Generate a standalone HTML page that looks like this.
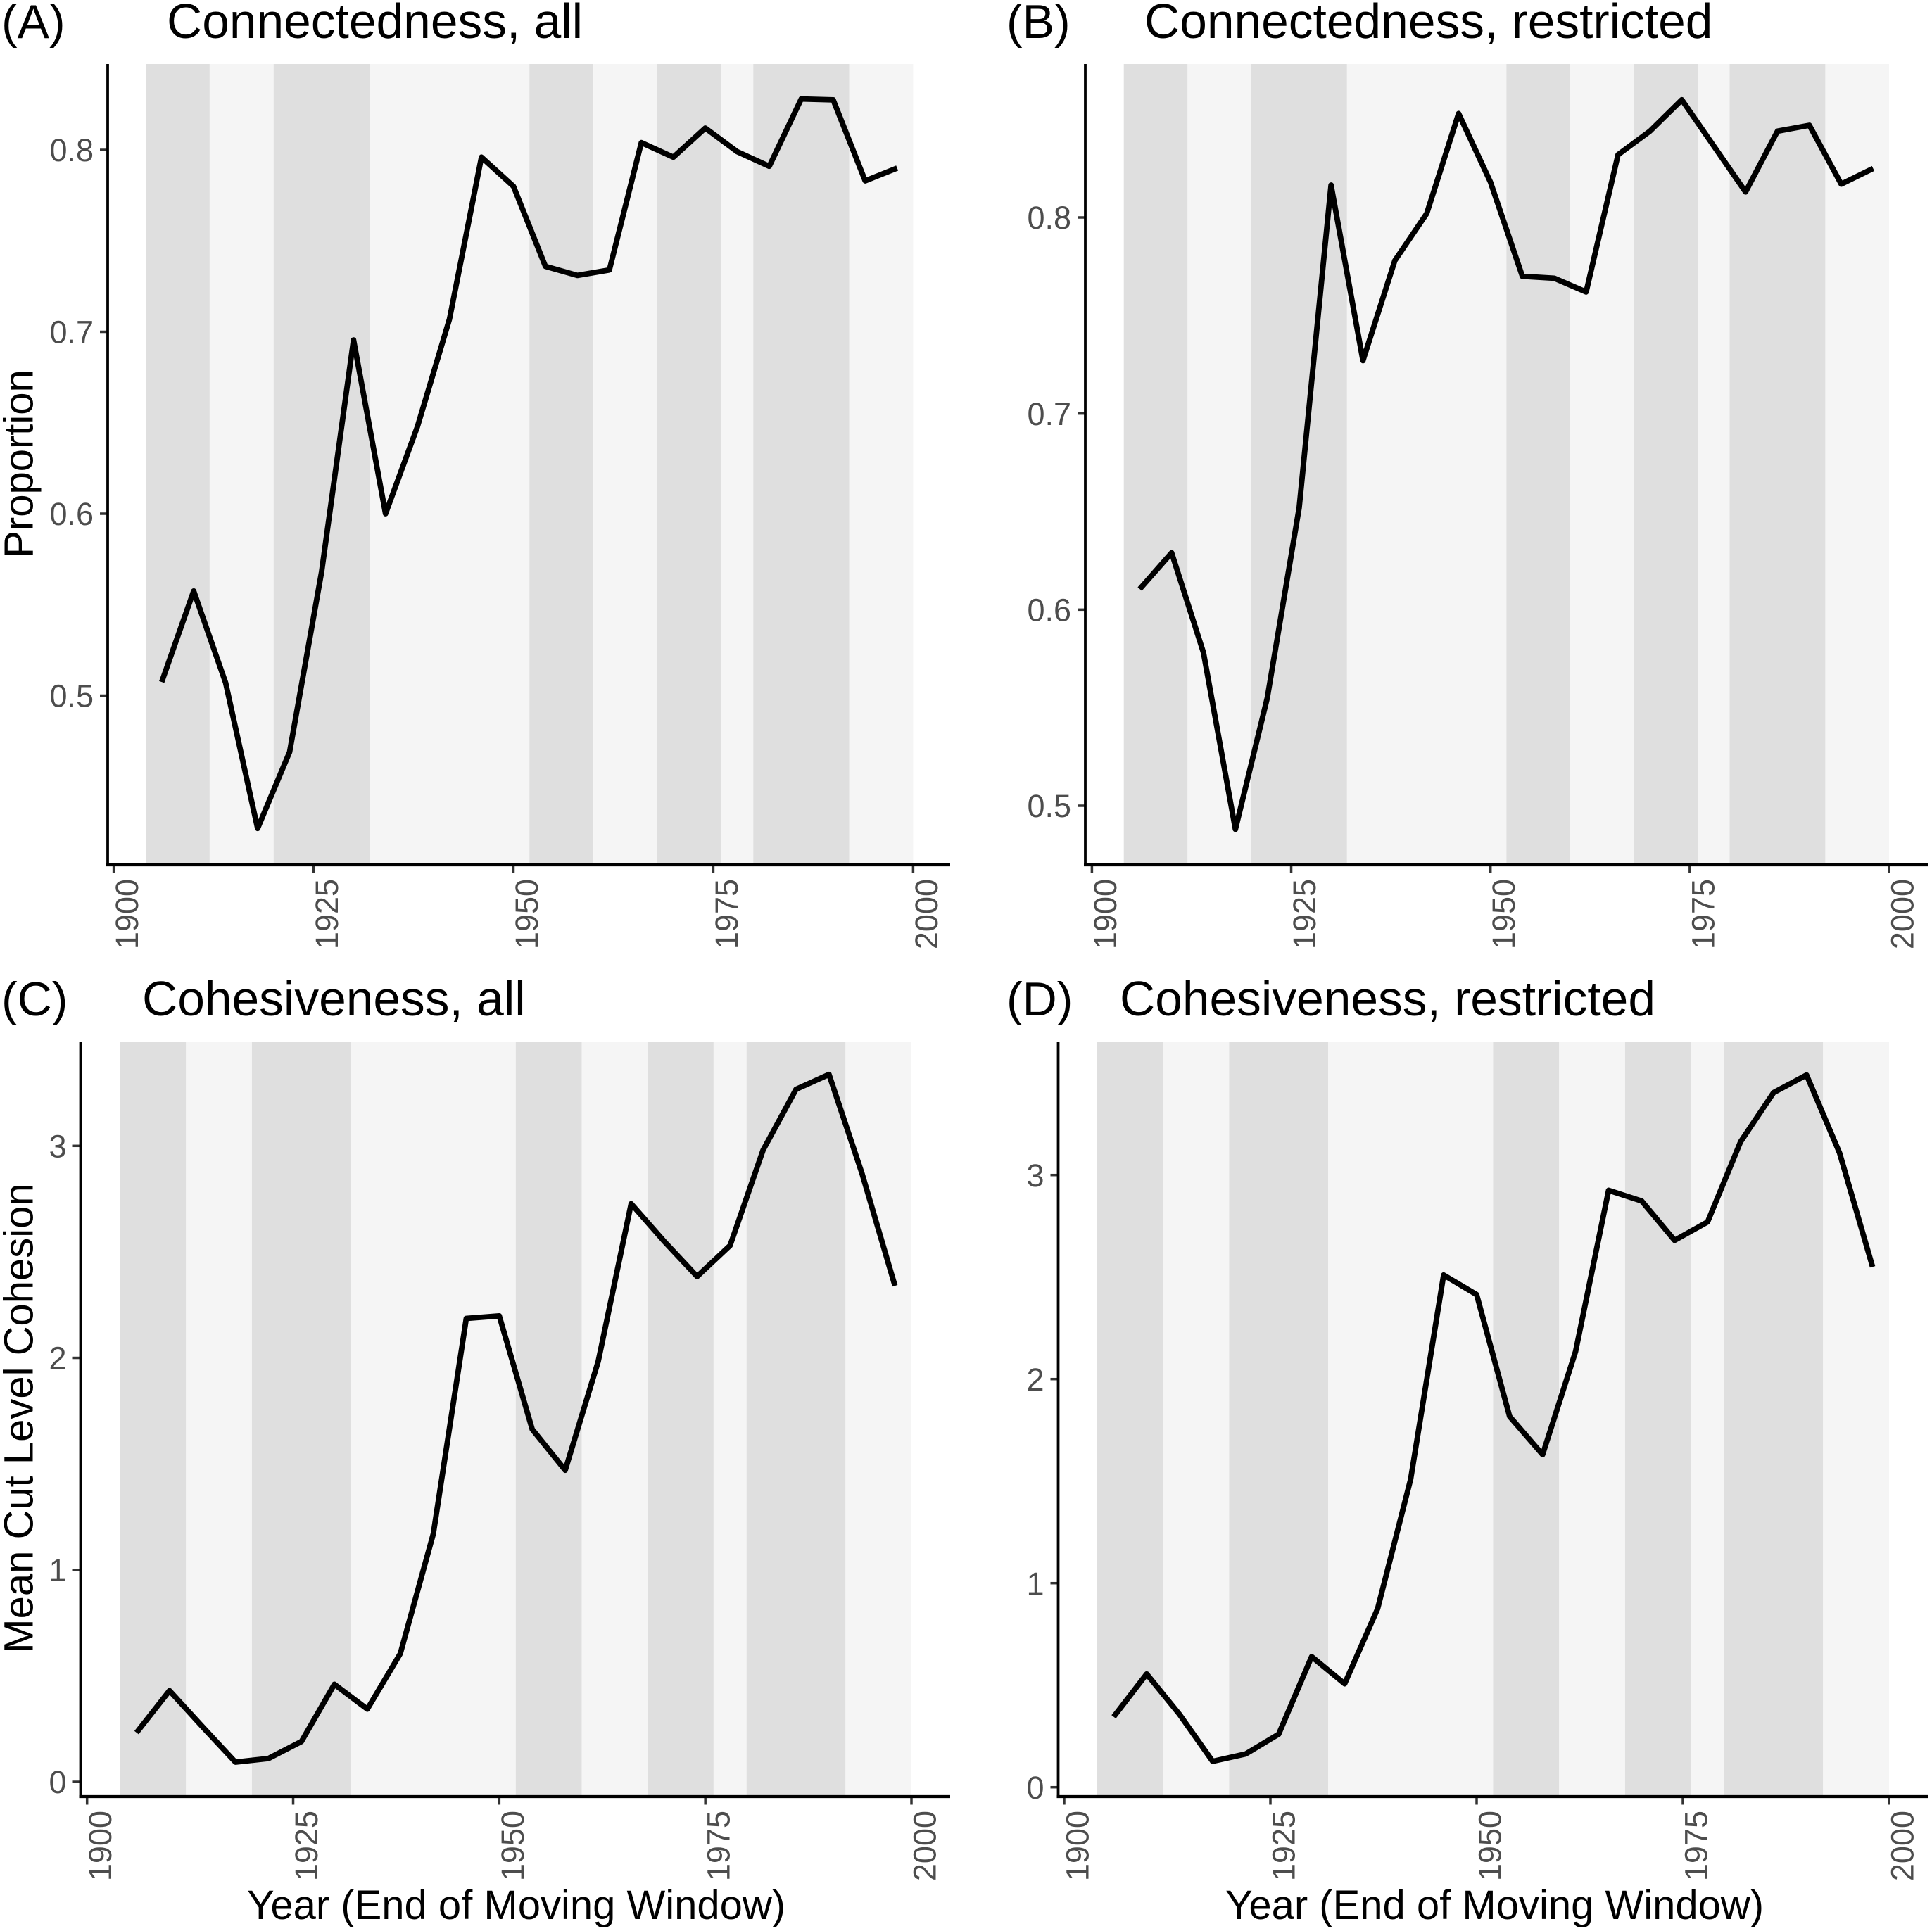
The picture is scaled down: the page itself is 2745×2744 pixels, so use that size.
<!DOCTYPE html>
<html lang="en">
<head>
<meta charset="utf-8">
<title>Connectedness and cohesiveness over time</title>
<style>
html,body{margin:0;padding:0;background:#fff;}
svg{display:block;font-family:"Liberation Sans",Arial,sans-serif;}
.tick-label{font-size:45px;fill:#4d4d4d;}
.panel-title{font-size:69.5px;fill:#000;}
.panel-tag{font-size:68px;fill:#000;}
.axis-title{font-size:58px;fill:#000;}
</style>
</head>
<body>
<svg id="figure" width="2745" height="2744" viewBox="0 0 2745 2744" xmlns="http://www.w3.org/2000/svg">
  <rect width="2745" height="2744" fill="#fff"/>
  <g id="panel-a">
    <text class="panel-tag" x="2" y="54">(A)</text>
    <text class="panel-title" x="237" y="54">Connectedness, all</text>
    <text class="axis-title" transform="translate(46.5 659) rotate(-90)" text-anchor="middle">Proportion</text>
  </g>
  <g id="panel-b">
    <text class="panel-tag" x="1430" y="54">(B)</text>
    <text class="panel-title" x="1626" y="54">Connectedness, restricted</text>
  </g>
  <g id="panel-c">
    <text class="panel-tag" x="2" y="1443">(C)</text>
    <text class="panel-title" x="202" y="1443">Cohesiveness, all</text>
    <text class="axis-title" transform="translate(46.5 2015) rotate(-90)" text-anchor="middle">Mean Cut Level Cohesion</text>
    <text class="axis-title" x="351" y="2727">Year (End of Moving Window)</text>
  </g>
  <g id="panel-d">
    <text class="panel-tag" x="1430" y="1443">(D)</text>
    <text class="panel-title" x="1591" y="1443">Cohesiveness, restricted</text>
    <text class="axis-title" x="1741" y="2727">Year (End of Moving Window)</text>
  </g>
</svg>
<script>
// ---- Chart data ----
const years = [1906,1910,1914,1918,1922,1926,1930,1934,1938,1942,1946,1950,1954,1958,1962,1966,1970,1974,1978,1982,1986,1990,1994,1998];
const connectednessAll = [0.5075,0.5575,0.507,0.427,0.469,0.568,0.6955,0.600,0.648,0.707,0.796,0.780,0.736,0.731,0.734,0.804,0.796,0.812,0.799,0.791,0.828,0.8275,0.783,0.790];
const connectednessRestricted = [0.6105,0.629,0.578,0.488,0.555,0.652,0.8165,0.727,0.778,0.802,0.853,0.818,0.770,0.769,0.762,0.832,0.844,0.860,0.8365,0.813,0.844,0.847,0.817,0.825];
const cohesivenessAll = [0.232,0.43,0.26,0.093,0.11,0.19,0.46,0.343,0.605,1.17,2.186,2.198,1.663,1.47,1.983,2.727,2.55,2.384,2.53,2.98,3.267,3.337,2.87,2.34];
const cohesivenessRestricted = [0.345,0.555,0.356,0.127,0.163,0.26,0.64,0.507,0.875,1.509,2.51,2.414,1.817,1.63,2.136,2.925,2.873,2.68,2.77,3.163,3.404,3.49,3.108,2.55];
const xTickLabels = [1900,1925,1950,1975,2000];
const proportionTicksA = [0.5,0.6,0.7,0.8];
const proportionTicksB = [0.5,0.6,0.7,0.8];
const cohesionTicksC = [0,1,2,3];
const cohesionTicksD = [0,1,2,3];
const bandStartYears = [1904,1912,1920,1932,1952,1960,1968,1976,1980,1992];
const bandEndYears = [1912,1920,1932,1952,1960,1968,1976,1980,1992,2000];
const bandIsDark = [true,false,true,false,true,false,true,false,true,false];

const NS = 'http://www.w3.org/2000/svg';

function makeScale(d0, d1, r0, r1) {
  return function (v) { return r0 + (v - d0) * (r1 - r0) / (d1 - d0); };
}

function drawPanel(p) {
  const g = document.getElementById(p.id);
  const x = makeScale(1900, 2000, p.x1900, p.x2000);
  const y = makeScale(p.yD0, p.yD1, p.yR0, p.yR1);
  const first = g.firstChild;

  bandStartYears.forEach(function (start, i) {
    const r = document.createElementNS(NS, 'rect');
    
    
    r.setAttribute('x', x(start));
    r.setAttribute('y', p.top);
    r.setAttribute('width', x(bandEndYears[i]) - x(start));
    r.setAttribute('height', p.bandBottom - p.top);
    r.setAttribute('fill', bandIsDark[i] ? '#dfdfdf' : '#f5f5f5');
    g.insertBefore(r, first);
  });

  const pts = years.map(function (yr, i) { return x(yr).toFixed(2) + ',' + y(p.values[i]).toFixed(2); }).join(' ');
  const line = document.createElementNS(NS, 'polyline');
  
  
  line.setAttribute('points', pts);
  line.setAttribute('fill', 'none');
  line.setAttribute('stroke', '#000');
  line.setAttribute('stroke-width', '7.8');
  line.setAttribute('stroke-linejoin', 'round');
  line.setAttribute('stroke-linecap', 'butt');
  g.appendChild(line);

  xTickLabels.forEach(function (yr) {
    const t = document.createElementNS(NS, 'line');
    
    
    t.setAttribute('x1', x(yr));
    t.setAttribute('x2', x(yr));
    t.setAttribute('y1', p.axisY);
    t.setAttribute('y2', p.axisY + 11.5);
    t.setAttribute('stroke', '#333');
    t.setAttribute('stroke-width', '3.5');
    g.appendChild(t);
    const lab = document.createElementNS(NS, 'text');
    
    
    lab.setAttribute('class', 'tick-label');
    lab.setAttribute('text-anchor', 'end');
    lab.setAttribute('transform', 'translate(' + (x(yr) + 34.5) + ' ' + (p.axisY + 20) + ') rotate(-90)');
    lab.textContent = yr;
    g.appendChild(lab);
  });

  p.ticks.forEach(function (v) {
    const t = document.createElementNS(NS, 'line');
    
    
    t.setAttribute('x1', p.axisX - 11);
    t.setAttribute('x2', p.axisX);
    t.setAttribute('y1', y(v));
    t.setAttribute('y2', y(v));
    t.setAttribute('stroke', '#333');
    t.setAttribute('stroke-width', '3.5');
    g.appendChild(t);
    const lab = document.createElementNS(NS, 'text');
    
    
    lab.setAttribute('class', 'tick-label');
    lab.setAttribute('text-anchor', 'end');
    lab.setAttribute('x', p.axisX - 20);
    lab.setAttribute('y', y(v) + 16.2);
    lab.textContent = p.fixed ? v.toFixed(p.fixed) : String(v);
    g.appendChild(lab);
  });

  const yAxis = document.createElementNS(NS, 'line');
  
  
  yAxis.setAttribute('x1', p.axisX);
  yAxis.setAttribute('x2', p.axisX);
  yAxis.setAttribute('y1', p.top);
  yAxis.setAttribute('y2', p.axisY + 2);
  yAxis.setAttribute('stroke', '#000');
  yAxis.setAttribute('stroke-width', '3.8');
  g.appendChild(yAxis);

  const xAxis = document.createElementNS(NS, 'line');
  
  
  xAxis.setAttribute('x1', p.axisX - 2);
  xAxis.setAttribute('x2', p.right);
  xAxis.setAttribute('y1', p.axisY);
  xAxis.setAttribute('y2', p.axisY);
  xAxis.setAttribute('stroke', '#000');
  xAxis.setAttribute('stroke-width', '4.2');
  g.appendChild(xAxis);
}

drawPanel({id:'panel-a', values:connectednessAll, ticks:proportionTicksA, fixed:1,
  x1900:161.6, x2000:1297.4, yD0:0.8, yD1:0.5, yR0:213, yR1:988.5,
  axisX:153, axisY:1229, top:91, bandBottom:1227, right:1350});
drawPanel({id:'panel-b', values:connectednessRestricted, ticks:proportionTicksB, fixed:1,
  x1900:1551.4, x2000:2684, yD0:0.8, yD1:0.5, yR0:309, yR1:1145,
  axisX:1542, axisY:1229, top:91, bandBottom:1227, right:2740});
drawPanel({id:'panel-c', values:cohesivenessAll, ticks:cohesionTicksC, fixed:0,
  x1900:123.7, x2000:1295, yD0:3, yD1:0, yR0:1628.3, yR1:2532,
  axisX:114.5, axisY:2553, top:1480, bandBottom:2551, right:1350});
drawPanel({id:'panel-d', values:cohesivenessRestricted, ticks:cohesionTicksD, fixed:0,
  x1900:1512, x2000:2684, yD0:3, yD1:0, yR0:1669.7, yR1:2539.7,
  axisX:1503.5, axisY:2553, top:1480, bandBottom:2551, right:2740});
</script>
</body>
</html>
